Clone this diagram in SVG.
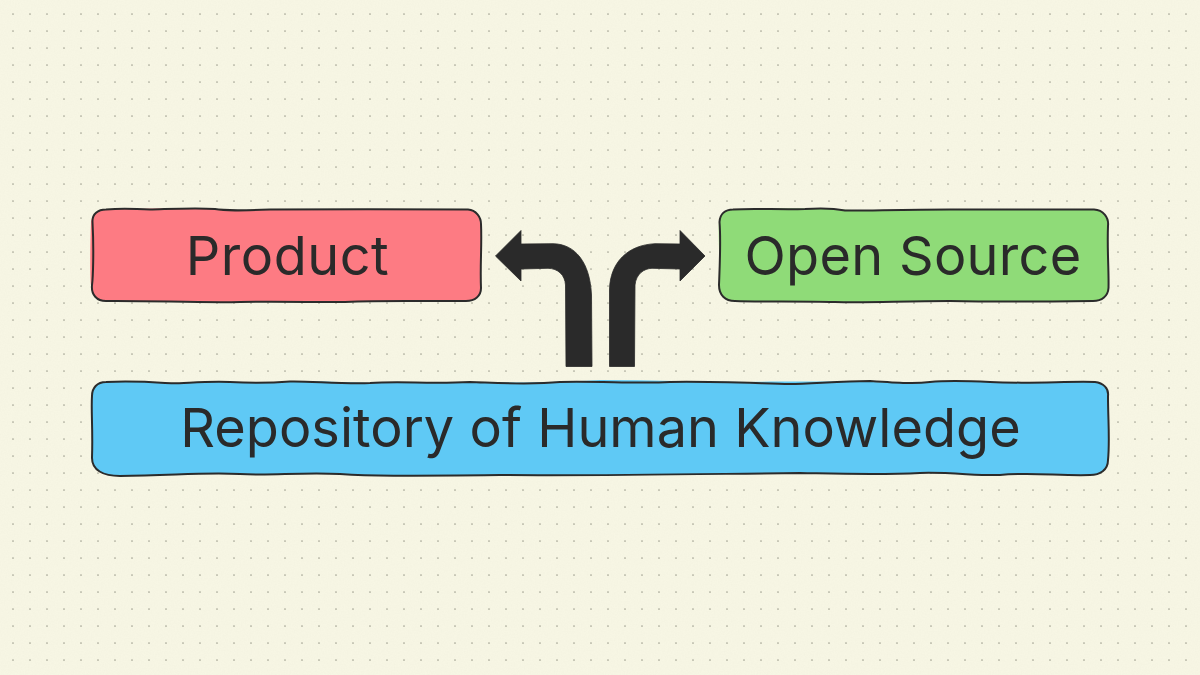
<svg xmlns="http://www.w3.org/2000/svg" width="1200" height="675" viewBox="0 0 1200 675">
<style>
.fill{stroke:none}
.edge{fill:none;stroke:#2b2b2b;stroke-width:2;stroke-linejoin:round;stroke-linecap:round}
.label{font-family:"Inter","Liberation Sans",sans-serif;font-size:54px;fill:#2a2a2a;text-anchor:middle}
.arrow{fill:#2a2a2a;stroke:#2a2a2a;stroke-width:.8;stroke-linejoin:round}
</style>
<defs>
<pattern id="dots" x="0" y="0" width="17" height="17" patternUnits="userSpaceOnUse">
<circle cx="13" cy="14" r="0.85" fill="#a3a394"/>
</pattern>
<filter id="grain" x="0" y="0" width="100%" height="100%">
<feTurbulence type="fractalNoise" baseFrequency="0.7" numOctaves="2" seed="4"/>
<feColorMatrix values="0 0 0 0 0.55  0 0 0 0 0.55  0 0 0 0 0.45  0 0 0 0.1 -0.03"/>
</filter>
</defs>
<rect id="paper" width="1200" height="675" fill="#f7f6e4"/>
<rect id="paper-grain" width="1200" height="675" filter="url(#grain)"/>
<rect id="dot-grid" width="1200" height="675" fill="url(#dots)"/>

<g id="connectors">
<path class="arrow" d="M495.5,256 L521,230.5 L521,244 L553,243.7 C575,244 590,262 591.5,295 L592,366.5 L566,366.5 L565.5,285 C565,275 558,268.5 548,268.3 L521,269 L521,281 Z"/>
<path class="arrow" d="M705,256 L680,230.5 L680,244 L655,243.7 C628,245 610,262 609.5,290 L609.5,366.5 L634.5,366.5 L635,285 C636,274 644,268.5 652,268.3 L680,269 L680,281 Z"/>
</g>

<g id="node-product">
<path class="fill" fill="#fd7b83" d="M106,209.5 C140,209 190,207.5 215,209 C225,211 240,210 270,209.5 C320,209 420,209.5 468,209.5 C476,210 481,217 481,224 L481,288 C481,296 475,301 466,301 C430,301.5 390,300 345,302 C320,302.5 280,301.5 240,302 C200,303 150,300.5 106,301 C97,301 91,295 91,285 C90,278 90,250 91,222 C92,214 98,209.5 106,209.5 Z"/>
<path class="edge" d="M106,209.5 C125,208 130,209 150,209.5 C170,209 195,207.5 215,209 C225,211 240,210.5 270,209.5 C320,209 420,209.5 468,209.5 C476,210 481,217 481,224 C482,245 480,265 481,288 C481,296 475,301 466,301 C430,301.5 390,300 345,302 C320,302.5 280,301 240,302 C200,303 150,300.5 106,301 C97,301 91,295 92,285 C93,278 94,250 92.5,222 C92,214 98,209.5 106,209.5 Z"/>
<text class="label" x="287.5" y="275" letter-spacing="0.5">Product</text>
</g>

<g id="node-open-source">
<path class="fill" fill="#8fdb78" d="M733,209.5 C770,208.5 810,208 840,209.5 C860,211 900,209.5 950,209.5 C1000,209.5 1050,209.5 1094,209.5 C1103,210 1109,217 1108,226 L1109,288 C1108,296 1102,301 1093,301 C1050,301.5 1000,302 950,301.5 C900,301 870,303 835,302 C800,301 760,301.5 735,301 C725,301 719,295 719,285 C720,260 718,235 719,222 C720,214 725,209.5 733,209.5 Z"/>
<path class="edge" d="M733,209.5 C755,208 780,210 805,209 C820,208 835,208.5 845,210.5 C860,211 900,209.5 950,209.5 C1000,209.5 1050,209.5 1094,209.5 C1103,210 1109,217 1108,226 C1107,250 1109,270 1108.5,288 C1108,296 1102,301 1093,301 C1050,301.5 1000,302 950,301 C900,301 870,303 835,302 C800,301 760,302 735,301 C725,301 719,295 719,285 C720,260 721,240 719.5,222 C720,214 725,209.5 733,209.5 Z"/>
<text class="label" x="913" y="275" letter-spacing="0.3">Open Source</text>
</g>

<g id="node-repository">
<path class="fill" fill="#5fc9f5" d="M106,382 C130,381 150,382 165,383 C180,384 200,381 230,382 C250,383 270,383 290,382 C310,381 340,382 370,383 C400,382 430,383 470,382 C500,383 540,383 600,380 C650,380 700,382 750,382 C800,381 880,382 915,383 C930,382 960,381 990,382 C1030,383 1070,381 1095,382 C1103,383 1109,388 1108,396 C1108,420 1110,440 1108,460 C1108,470 1100,475 1090,475 C1060,476 1030,472 1000,475 C980,476 950,472 920,473 C880,475 850,474 800,473 C700,474 600,476 500,475 C400,476 370,476 340,474 C300,472 270,476 240,474 C200,472 170,476 120,476 C103,476 92,470 92,458 C93,430 91,410 92,396 C92,388 97,382 106,382 Z"/>
<path class="edge" d="M106,382 C130,381 150,382 165,383 C180,384 200,381 230,382 C250,383 270,383 290,381.5 C310,381 340,384 370,383 C400,381 430,384 470,382 C500,383 530,385 560,382 C600,381 640,384 670,382 C700,381 750,383 790,384 C810,384 840,381 870,381 C900,383 915,384 930,382 C950,380 970,381 990,382 C1030,384 1070,381 1095,382 C1103,383 1109,388 1108,396 C1108,420 1110,440 1108,460 C1108,470 1100,475 1090,475 C1060,476 1030,472 1000,475 C980,476 950,472 920,473 C880,475 850,474 800,473 C700,474 600,476 500,475 C400,476 370,476 340,474 C300,472 270,476 240,474 C200,472 170,476 120,476 C103,476 92,470 92,458 C93,430 91,410 92,396 C92,388 97,382 106,382 Z"/>
<text class="label" x="600.5" y="447" letter-spacing="0.05">Repository of Human Knowledge</text>
</g>
</svg>
